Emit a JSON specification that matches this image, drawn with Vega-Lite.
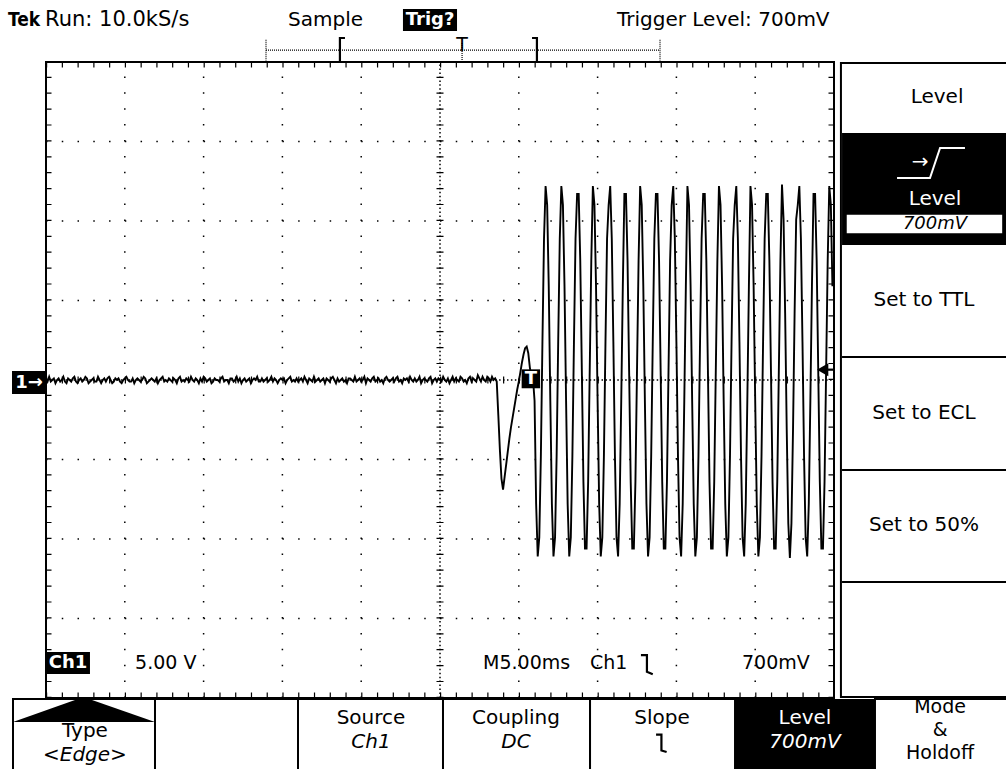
{
"$schema": "https://vega.github.io/schema/vega-lite/v6.json",
"width": 788, "height": 636,
"autosize": "none",
"padding": {"left": 46, "top": 62, "right": 172, "bottom": 71},
"background": "white",
"config": {"view": {"stroke": "black", "strokeWidth": 2}},
"datasets": {
"wave": [
{"t":0,"v":0.1},{"t":0.1,"v":-0.1},{"t":0.2,"v":0.2},{"t":0.3,"v":-0.1},{"t":0.4,"v":0},{"t":0.5,"v":0.1},{"t":0.6,"v":-0.2},{"t":0.7,"v":0},{"t":0.8,"v":0.1},{"t":0.9,"v":-0.1},
{"t":1,"v":0},{"t":1.1,"v":0.2},{"t":1.2,"v":-0.1},{"t":1.3,"v":-0.2},{"t":1.4,"v":0.1},{"t":1.5,"v":0},{"t":1.6,"v":-0.1},{"t":1.7,"v":0.1},{"t":1.8,"v":0.2},{"t":1.9,"v":-0.1},
{"t":2,"v":-0.2},{"t":2.1,"v":0},{"t":2.2,"v":0.1},{"t":2.3,"v":-0.1},{"t":2.4,"v":0},{"t":2.5,"v":0.2},{"t":2.6,"v":0.1},{"t":2.7,"v":-0.2},{"t":2.8,"v":-0.1},{"t":2.9,"v":0},
{"t":3,"v":0.1},{"t":3.1,"v":-0.1},{"t":3.2,"v":-0.1},{"t":3.3,"v":0.2},{"t":3.4,"v":0},{"t":3.5,"v":-0.2},{"t":3.6,"v":0},{"t":3.7,"v":0.1},{"t":3.8,"v":-0.1},{"t":3.9,"v":0.1},
{"t":4,"v":0.2},{"t":4.1,"v":0},{"t":4.2,"v":-0.2},{"t":4.3,"v":-0.1},{"t":4.4,"v":0.1},{"t":4.5,"v":0},{"t":4.6,"v":0.1},{"t":4.7,"v":-0.1},{"t":4.8,"v":-0.2},{"t":4.9,"v":0},
{"t":5,"v":0.1},{"t":5.1,"v":0.2},{"t":5.2,"v":0},{"t":5.3,"v":-0.1},{"t":5.4,"v":-0.1},{"t":5.5,"v":0.1},{"t":5.6,"v":-0.2},{"t":5.7,"v":0},{"t":5.8,"v":0.1},{"t":5.9,"v":0},
{"t":6,"v":-0.1},{"t":6.1,"v":0},{"t":6.2,"v":0.2},{"t":6.3,"v":0.1},{"t":6.4,"v":-0.2},{"t":6.5,"v":-0.1},{"t":6.6,"v":0},{"t":6.7,"v":0.1},{"t":6.8,"v":0},{"t":6.9,"v":-0.1},
{"t":7,"v":0.1},{"t":7.1,"v":-0.2},{"t":7.2,"v":0},{"t":7.3,"v":0.1},{"t":7.4,"v":0.2},{"t":7.5,"v":-0.1},{"t":7.6,"v":0},{"t":7.7,"v":-0.1},{"t":7.8,"v":0.1},{"t":7.9,"v":0},
{"t":8,"v":-0.1},{"t":8.1,"v":0.1},{"t":8.2,"v":0},{"t":8.3,"v":-0.2},{"t":8.4,"v":0.1},{"t":8.5,"v":0.2},{"t":8.6,"v":-0.1},{"t":8.7,"v":0},{"t":8.8,"v":-0.1},{"t":8.9,"v":0.1},
{"t":9,"v":0},{"t":9.1,"v":-0.1},{"t":9.2,"v":0.2},{"t":9.3,"v":0},{"t":9.4,"v":-0.1},{"t":9.5,"v":0.1},{"t":9.6,"v":0},{"t":9.7,"v":-0.2},{"t":9.8,"v":0.1},{"t":9.9,"v":-0.1},
{"t":10,"v":0.2},{"t":10.1,"v":0.1},{"t":10.2,"v":-0.1},{"t":10.3,"v":0},{"t":10.4,"v":0.1},{"t":10.5,"v":-0.2},{"t":10.6,"v":-0.1},{"t":10.7,"v":0.1},{"t":10.8,"v":0},{"t":10.9,"v":0},
{"t":11,"v":-0.1},{"t":11.1,"v":0.1},{"t":11.2,"v":0.2},{"t":11.3,"v":-0.1},{"t":11.4,"v":0},{"t":11.5,"v":0},{"t":11.6,"v":-0.2},{"t":11.7,"v":0.1},{"t":11.8,"v":0.1},{"t":11.9,"v":-0.1},
{"t":12,"v":0},{"t":12.1,"v":0.2},{"t":12.2,"v":-0.1},{"t":12.3,"v":0.1},{"t":12.4,"v":-0.2},{"t":12.5,"v":0},{"t":12.6,"v":0.1},{"t":12.7,"v":-0.1},{"t":12.8,"v":0},{"t":12.9,"v":0.1},
{"t":13,"v":-0.2},{"t":13.1,"v":0},{"t":13.2,"v":0.1},{"t":13.3,"v":0},{"t":13.4,"v":0.2},{"t":13.5,"v":-0.1},{"t":13.6,"v":-0.1},{"t":13.7,"v":0.1},{"t":13.8,"v":-0.1},{"t":13.9,"v":0},
{"t":14,"v":0.1},{"t":14.1,"v":-0.1},{"t":14.2,"v":0},{"t":14.3,"v":0.2},{"t":14.4,"v":-0.1},{"t":14.5,"v":0.1},{"t":14.6,"v":0},{"t":14.7,"v":-0.2},{"t":14.8,"v":0},{"t":14.9,"v":0.1},
{"t":15,"v":0},{"t":15.1,"v":0.1},{"t":15.2,"v":-0.2},{"t":15.3,"v":0},{"t":15.4,"v":0.1},{"t":15.5,"v":0.2},{"t":15.6,"v":-0.1},{"t":15.7,"v":0},{"t":15.8,"v":-0.1},{"t":15.9,"v":0.1},
{"t":16,"v":-0.1},{"t":16.1,"v":0},{"t":16.2,"v":0.1},{"t":16.3,"v":-0.1},{"t":16.4,"v":0.2},{"t":16.5,"v":0},{"t":16.6,"v":-0.2},{"t":16.7,"v":0.1},{"t":16.8,"v":0},{"t":16.9,"v":-0.1},
{"t":17,"v":0.2},{"t":17.1,"v":-0.1},{"t":17.2,"v":0},{"t":17.3,"v":0.1},{"t":17.4,"v":-0.1},{"t":17.5,"v":0},{"t":17.6,"v":0.1},{"t":17.7,"v":-0.2},{"t":17.8,"v":0.1},{"t":17.9,"v":0},
{"t":18,"v":-0.1},{"t":18.1,"v":0.1},{"t":18.2,"v":0.2},{"t":18.3,"v":0},{"t":18.4,"v":-0.2},{"t":18.5,"v":0.1},{"t":18.6,"v":-0.1},{"t":18.7,"v":0},{"t":18.8,"v":0.1},{"t":18.9,"v":-0.1},
{"t":19,"v":0},{"t":19.1,"v":-0.2},{"t":19.2,"v":0.1},{"t":19.3,"v":0.1},{"t":19.4,"v":0},{"t":19.5,"v":-0.1},{"t":19.6,"v":0.2},{"t":19.7,"v":-0.1},{"t":19.8,"v":0},{"t":19.9,"v":0.1},
{"t":20,"v":-0.1},{"t":20.1,"v":0},{"t":20.2,"v":0.2},{"t":20.3,"v":-0.2},{"t":20.4,"v":0.1},{"t":20.5,"v":0},{"t":20.6,"v":-0.1},{"t":20.7,"v":0.1},{"t":20.8,"v":0.2},{"t":20.9,"v":-0.1},
{"t":21,"v":0},{"t":21.1,"v":0.1},{"t":21.2,"v":-0.1},{"t":21.3,"v":0},{"t":21.4,"v":-0.2},{"t":21.5,"v":0.1},{"t":21.6,"v":0.2},{"t":21.7,"v":0},{"t":21.8,"v":-0.1},{"t":21.9,"v":0},
{"t":22,"v":0.1},{"t":22.1,"v":-0.1},{"t":22.2,"v":0.1},{"t":22.3,"v":0.2},{"t":22.4,"v":-0.1},{"t":22.5,"v":0},{"t":22.6,"v":-0.2},{"t":22.7,"v":0.1},{"t":22.8,"v":0},{"t":22.9,"v":0.1},
{"t":23,"v":-0.1},{"t":23.1,"v":0.2},{"t":23.2,"v":0},{"t":23.3,"v":-0.1},{"t":23.4,"v":0.1},{"t":23.5,"v":-0.1},{"t":23.6,"v":0},{"t":23.7,"v":0.2},{"t":23.8,"v":-0.2},{"t":23.9,"v":0},
{"t":24,"v":0.1},{"t":24.1,"v":0},{"t":24.2,"v":-0.1},{"t":24.3,"v":0.1},{"t":24.4,"v":0.2},{"t":24.5,"v":-0.2},{"t":24.6,"v":0},{"t":24.7,"v":0.1},{"t":24.8,"v":-0.1},{"t":24.9,"v":0.1},
{"t":25,"v":0},{"t":25.1,"v":-0.1},{"t":25.2,"v":0.2},{"t":25.3,"v":0},{"t":25.4,"v":-0.1},{"t":25.5,"v":0.1},{"t":25.6,"v":-0.2},{"t":25.7,"v":0},{"t":25.8,"v":0.2},{"t":25.9,"v":-0.1},
{"t":26,"v":0.1},{"t":26.1,"v":0},{"t":26.2,"v":-0.1},{"t":26.3,"v":0.2},{"t":26.4,"v":0.1},{"t":26.5,"v":-0.1},{"t":26.6,"v":0},{"t":26.7,"v":-0.2},{"t":26.8,"v":0.1},{"t":26.9,"v":0.2},
{"t":27,"v":-0.1},{"t":27.1,"v":0.1},{"t":27.2,"v":0},{"t":27.3,"v":-0.1},{"t":27.4,"v":0.3},{"t":27.5,"v":0.1},{"t":27.6,"v":-0.1},{"t":27.7,"v":0.2},{"t":27.8,"v":0},{"t":27.9,"v":-0.1},
{"t":28,"v":0.2},{"t":28.1,"v":0.1},{"t":28.2,"v":-0.1},{"t":28.3,"v":0.2},{"t":28.4,"v":0},{"t":28.5,"v":0.1},{"t":28.6,"v":-0.1},
{"t":28.7,"v":-2.2},{"t":28.8,"v":-4.4},{"t":28.9,"v":-6.2},{"t":29,"v":-6.9},{"t":29.1,"v":-6.1},{"t":29.2,"v":-5.3},{"t":29.3,"v":-4.5},{"t":29.4,"v":-3.7},{"t":29.5,"v":-3},{"t":29.6,"v":-2.4},
{"t":29.7,"v":-1.8},{"t":29.8,"v":-1.2},{"t":29.9,"v":-0.6},{"t":30,"v":-0.1},{"t":30.1,"v":0.5},{"t":30.2,"v":1.1},{"t":30.3,"v":1.6},{"t":30.4,"v":2},{"t":30.5,"v":2.1},{"t":30.6,"v":1.7},
{"t":30.7,"v":0.8},{"t":30.8,"v":0.2},{"t":30.9,"v":0.1},{"t":31,"v":-1.3},{"t":31.1,"v":-7.8},{"t":31.2,"v":-11.1},{"t":31.3,"v":-9.9},{"t":31.4,"v":-4.8},{"t":31.5,"v":2.4},{"t":31.6,"v":8.9},
{"t":31.7,"v":12.2},{"t":31.8,"v":11},{"t":31.9,"v":5.9},{"t":32,"v":-1.3},{"t":32.1,"v":-7.8},{"t":32.2,"v":-11.1},{"t":32.3,"v":-9.9},{"t":32.4,"v":-4.8},{"t":32.5,"v":2.4},{"t":32.6,"v":8.9},
{"t":32.7,"v":12.2},{"t":32.8,"v":11},{"t":32.9,"v":5.9},{"t":33,"v":-1.3},{"t":33.1,"v":-7.8},{"t":33.2,"v":-11.1},{"t":33.3,"v":-9.9},{"t":33.4,"v":-4.8},{"t":33.5,"v":2.4},{"t":33.6,"v":8.9},
{"t":33.7,"v":11.7},{"t":33.8,"v":11.7},{"t":33.9,"v":7.5},{"t":34,"v":0.6},{"t":34.1,"v":-6.4},{"t":34.2,"v":-10.6},{"t":34.3,"v":-10.6},{"t":34.4,"v":-6.4},{"t":34.5,"v":0.6},{"t":34.6,"v":7.5},
{"t":34.7,"v":12.2},{"t":34.8,"v":11},{"t":34.9,"v":5.9},{"t":35,"v":-1.3},{"t":35.1,"v":-7.8},{"t":35.2,"v":-11.1},{"t":35.3,"v":-9.9},{"t":35.4,"v":-4.8},{"t":35.5,"v":2.4},{"t":35.6,"v":8.9},
{"t":35.7,"v":11},{"t":35.8,"v":12.2},{"t":35.9,"v":8.9},{"t":36,"v":2.4},{"t":36.1,"v":-4.8},{"t":36.2,"v":-9.9},{"t":36.3,"v":-11.1},{"t":36.4,"v":-7.8},{"t":36.5,"v":-1.3},{"t":36.6,"v":5.9},
{"t":36.7,"v":11.7},{"t":36.8,"v":11.7},{"t":36.9,"v":7.5},{"t":37,"v":0.6},{"t":37.1,"v":-6.4},{"t":37.2,"v":-10.6},{"t":37.3,"v":-10.6},{"t":37.4,"v":-6.4},{"t":37.5,"v":0.6},{"t":37.6,"v":7.5},
{"t":37.7,"v":12.2},{"t":37.8,"v":11},{"t":37.9,"v":5.9},{"t":38,"v":-1.3},{"t":38.1,"v":-7.8},{"t":38.2,"v":-11.1},{"t":38.3,"v":-9.9},{"t":38.4,"v":-4.8},{"t":38.5,"v":2.4},{"t":38.6,"v":8.9},
{"t":38.7,"v":11.7},{"t":38.8,"v":11.7},{"t":38.9,"v":7.5},{"t":39,"v":0.6},{"t":39.1,"v":-6.4},{"t":39.2,"v":-10.6},{"t":39.3,"v":-10.6},{"t":39.4,"v":-6.4},{"t":39.5,"v":0.6},{"t":39.6,"v":7.5},
{"t":39.7,"v":11},{"t":39.8,"v":12.2},{"t":39.9,"v":8.9},{"t":40,"v":2.4},{"t":40.1,"v":-4.8},{"t":40.2,"v":-9.9},{"t":40.3,"v":-11.1},{"t":40.4,"v":-7.8},{"t":40.5,"v":-1.3},{"t":40.6,"v":5.9},
{"t":40.7,"v":12.2},{"t":40.8,"v":11},{"t":40.9,"v":5.9},{"t":41,"v":-1.3},{"t":41.1,"v":-7.8},{"t":41.2,"v":-11.1},{"t":41.3,"v":-9.9},{"t":41.4,"v":-4.8},{"t":41.5,"v":2.4},{"t":41.6,"v":8.9},
{"t":41.7,"v":11.7},{"t":41.8,"v":11.7},{"t":41.9,"v":7.5},{"t":42,"v":0.6},{"t":42.1,"v":-6.4},{"t":42.2,"v":-10.6},{"t":42.3,"v":-10.6},{"t":42.4,"v":-6.4},{"t":42.5,"v":0.6},{"t":42.6,"v":7.5},
{"t":42.7,"v":12.2},{"t":42.8,"v":11},{"t":42.9,"v":5.9},{"t":43,"v":-1.3},{"t":43.1,"v":-7.8},{"t":43.2,"v":-11.1},{"t":43.3,"v":-9.9},{"t":43.4,"v":-4.8},{"t":43.5,"v":2.4},{"t":43.6,"v":8.9},
{"t":43.7,"v":11},{"t":43.8,"v":12.2},{"t":43.9,"v":8.9},{"t":44,"v":2.4},{"t":44.1,"v":-4.8},{"t":44.2,"v":-9.9},{"t":44.3,"v":-11.1},{"t":44.4,"v":-7.8},{"t":44.5,"v":-1.3},{"t":44.6,"v":5.9},
{"t":44.7,"v":12.2},{"t":44.8,"v":11},{"t":44.9,"v":5.9},{"t":45,"v":-1.3},{"t":45.1,"v":-7.8},{"t":45.2,"v":-11.1},{"t":45.3,"v":-9.9},{"t":45.4,"v":-4.8},{"t":45.5,"v":2.4},{"t":45.6,"v":8.9},
{"t":45.7,"v":11.7},{"t":45.8,"v":11.7},{"t":45.9,"v":7.5},{"t":46,"v":0.6},{"t":46.1,"v":-6.4},{"t":46.2,"v":-10.6},{"t":46.3,"v":-10.6},{"t":46.4,"v":-6.4},{"t":46.5,"v":0.6},{"t":46.6,"v":7.5},
{"t":46.7,"v":12.3},{"t":46.8,"v":10.1},{"t":46.9,"v":4.2},{"t":47,"v":-3.1},{"t":47.1,"v":-9},{"t":47.2,"v":-11.2},{"t":47.3,"v":-9},{"t":47.4,"v":-3.1},{"t":47.5,"v":4.2},{"t":47.6,"v":10.1},
{"t":47.7,"v":11},{"t":47.8,"v":12.2},{"t":47.9,"v":8.9},{"t":48,"v":2.4},{"t":48.1,"v":-4.8},{"t":48.2,"v":-9.9},{"t":48.3,"v":-11.1},{"t":48.4,"v":-7.8},{"t":48.5,"v":-1.3},{"t":48.6,"v":5.9},
{"t":48.7,"v":11.7},{"t":48.8,"v":11.7},{"t":48.9,"v":7.5},{"t":49,"v":0.6},{"t":49.1,"v":-6.4},{"t":49.2,"v":-10.6},{"t":49.3,"v":-10.6},{"t":49.4,"v":-6.4},{"t":49.5,"v":0.6},{"t":49.6,"v":7.5},
{"t":49.7,"v":12.2},{"t":49.8,"v":11},{"t":49.9,"v":5.9}
],
"boxes": [
{"g":"w1","x1":50.44,"x2":61.2,"y1":19.94,"y2":-19.94},
{"g":"w1","x1":-2.094,"x2":6.916,"y1":-20.06,"y2":-24.9},
{"g":"w1","x1":6.916,"x2":15.99,"y1":-20.06,"y2":-24.9},
{"g":"w1","x1":15.99,"x2":25.19,"y1":-20.06,"y2":-24.9},
{"g":"w1","x1":25.19,"x2":34.52,"y1":-20.06,"y2":-24.9},
{"g":"w1","x1":34.52,"x2":43.72,"y1":-20.06,"y2":-24.9},
{"g":"w1","x1":52.6,"x2":61.2,"y1":-20.06,"y2":-24.9},
{"g":"k","x1":43.72,"x2":52.6,"y1":-20.06,"y2":-24.9},
{"g":"k","x1":50.51,"x2":61.2,"y1":15.53,"y2":8.49},
{"g":"k","x1":22.65,"x2":26.08,"y1":23.33,"y2":21.95},
{"g":"k","x1":0.063,"x2":2.79,"y1":-17.11,"y2":-18.49},
{"g":"k","x1":-2.157,"x2":0,"y1":0.566,"y2":-0.88},
{"g":"k","x1":30.18,"x2":31.35,"y1":0.67,"y2":-0.52},
{"g":"w2","x1":50.76,"x2":60.72,"y1":10.44,"y2":9.18}
],
"tri": [
{"t":-2.094,"v":-21.51},{"t":1.84,"v":-20.13},{"t":2.92,"v":-20.13},{"t":6.916,"v":-21.51}
],
"rules": [
{"g":"solid","x1":50.51,"x2":61,"y1":1.447,"y2":1.447},
{"g":"solid","x1":50.51,"x2":61,"y1":-5.66,"y2":-5.66},
{"g":"solid","x1":50.51,"x2":61,"y1":-12.7,"y2":-12.7},
{"g":"dot","x1":13.96,"x2":38.96,"y1":20.75,"y2":20.75},
{"g":"dot","x1":13.96,"x2":13.96,"y1":21.4,"y2":20.1},
{"g":"dot","x1":38.96,"x2":38.96,"y1":21.4,"y2":20.1},
{"g":"dot","x1":26.4,"x2":26.4,"y1":21.2,"y2":20.1}
],
"strokes": [
{"id":"icon","k":"w","o":1,"t":54.0,"v":12.7},{"id":"icon","k":"w","o":2,"t":56.09,"v":12.7},{"id":"icon","k":"w","o":3,"t":56.73,"v":14.59},{"id":"icon","k":"w","o":4,"t":58.31,"v":14.59},
{"id":"lb","k":"b","o":1,"t":18.97,"v":21.51},{"id":"lb","k":"b","o":2,"t":18.65,"v":21.51},{"id":"lb","k":"b","o":3,"t":18.65,"v":20.0},{"id":"lb","k":"b","o":4,"t":18.97,"v":20.0},
{"id":"rb","k":"b","o":1,"t":30.84,"v":21.51},{"id":"rb","k":"b","o":2,"t":31.15,"v":21.51},{"id":"rb","k":"b","o":3,"t":31.15,"v":20.0},{"id":"rb","k":"b","o":4,"t":30.84,"v":20.0},
{"id":"s1","k":"b","o":1,"t":37.75,"v":-17.3},{"id":"s1","k":"b","o":2,"t":38.13,"v":-17.3},{"id":"s1","k":"b","o":3,"t":38.13,"v":-18.35},{"id":"s1","k":"b","o":4,"t":38.5,"v":-18.5},
{"id":"s2","k":"b","o":1,"t":38.71,"v":-22.3},{"id":"s2","k":"b","o":2,"t":39.05,"v":-22.3},{"id":"s2","k":"b","o":3,"t":39.05,"v":-23.3},{"id":"s2","k":"b","o":4,"t":39.38,"v":-23.4},
{"id":"trg","k":"b","o":1,"t":49.4,"v":0.65},{"id":"trg","k":"b","o":2,"t":50,"v":0.65}
],
"labels": [
{"g":"hdrb","t":-2.41,"v":22.64,"text":"Tek"},
{"g":"hdr2","t":-0.06,"v":22.64,"text":"Run: 10.0kS/s"},
{"g":"hdr","t":15.36,"v":22.64,"text":"Sample"},
{"g":"hdr","t":36.23,"v":22.64,"text":"Trigger Level: 700mV"},
{"g":"inv","t":24.37,"v":22.64,"text":"Trig?"},
{"g":"inv","t":1.4,"v":-17.8,"text":"Ch1"},
{"g":"inv","t":-1.08,"v":-0.16,"text":"1→"},
{"g":"inv","t":30.77,"v":0.06,"text":"T"},
{"g":"scr","t":5.65,"v":-17.8,"text":"5.00 V"},
{"g":"scr","t":27.73,"v":-17.8,"text":"M5.00ms"},
{"g":"scr","t":34.52,"v":-17.8,"text":"Ch1"},
{"g":"scr","t":44.16,"v":-17.8,"text":"700mV"},
{"g":"pos","t":26.4,"v":21.05,"text":"T"},
{"g":"menu","t":56.54,"v":17.8,"text":"Level"},
{"g":"menu","t":55.71,"v":5.03,"text":"Set to TTL"},
{"g":"menu","t":55.71,"v":-2.08,"text":"Set to ECL"},
{"g":"menu","t":55.71,"v":-9.12,"text":"Set to 50%"},
{"g":"menuinv","t":56.41,"v":11.38,"text":"Level"},
{"g":"menuinv","t":55.46,"v":13.71,"text":"→"},
{"g":"menuital","t":56.41,"v":9.78,"text":"700mV"},
{"g":"btn","t":2.47,"v":-22.08,"text":"Type"},
{"g":"btn","t":20.62,"v":-21.26,"text":"Source"},
{"g":"btn","t":29.82,"v":-21.26,"text":"Coupling"},
{"g":"btn","t":39.09,"v":-21.26,"text":"Slope"},
{"g":"btn3","t":56.73,"v":-20.57,"text":"Mode"},
{"g":"btn3","t":56.73,"v":-22.01,"text":"&"},
{"g":"btn3","t":56.73,"v":-23.46,"text":"Holdoff"},
{"g":"btnital","t":2.47,"v":-23.6,"text":"<Edge>"},
{"g":"btnital","t":20.62,"v":-22.77,"text":"Ch1"},
{"g":"btnital","t":29.82,"v":-22.77,"text":"DC"},
{"g":"btninv","t":48.16,"v":-21.26,"text":"Level"},
{"g":"btninvital","t":48.16,"v":-22.77,"text":"700mV"}
],
"gh": [{"v":-15},{"v":-10},{"v":-5},{"v":5},{"v":10},{"v":15}],
"gv": [{"t":5},{"t":10},{"t":15},{"t":20},{"t":30},{"t":35},{"t":40},{"t":45}],
"c0": [{"v":0}],
"c25": [{"t":25}],
"tpt": [{"t":49.28,"v":0.65}]
},
"layer": [
{"data":{"name":"gh"},"mark":{"type":"rule","color":"black","strokeWidth":1.5,"strokeDash":[1.5,14.26]},
 "encoding":{"y":{"field":"v","type":"quantitative","scale":{"domain":[-20,20],"nice":false,"zero":false},"axis":null},
  "x":{"datum":0,"type":"quantitative","scale":{"domain":[0,50],"nice":false,"zero":false},"axis":null},"x2":{"datum":50}}},
{"data":{"name":"gv"},"mark":{"type":"rule","color":"black","strokeWidth":1.5,"strokeDash":[1.5,14.4]},
 "encoding":{"x":{"field":"t","type":"quantitative","scale":{"domain":[0,50],"nice":false,"zero":false},"axis":null},
  "y":{"datum":-20,"type":"quantitative","scale":{"domain":[-20,20],"nice":false,"zero":false},"axis":null},"y2":{"datum":20}}},
{"data":{"name":"c0"},"mark":{"type":"rule","color":"black","strokeWidth":1.5,"strokeDash":[1.5,2.44]},
 "encoding":{"y":{"field":"v","type":"quantitative","scale":{"domain":[-20,20],"nice":false,"zero":false},"axis":null},
  "x":{"datum":0,"type":"quantitative","scale":{"domain":[0,50],"nice":false,"zero":false},"axis":null},"x2":{"datum":50}}},
{"data":{"name":"c0"},"mark":{"type":"rule","color":"black","strokeWidth":7,"strokeDash":[1.2,14.56]},
 "encoding":{"y":{"field":"v","type":"quantitative","scale":{"domain":[-20,20],"nice":false,"zero":false},"axis":null},
  "x":{"datum":0,"type":"quantitative","scale":{"domain":[0,50],"nice":false,"zero":false},"axis":null},"x2":{"datum":50}}},
{"data":{"name":"c25"},"mark":{"type":"rule","color":"black","strokeWidth":1.5,"strokeDash":[1.5,2.475]},
 "encoding":{"x":{"field":"t","type":"quantitative","scale":{"domain":[0,50],"nice":false,"zero":false},"axis":null},
  "y":{"datum":-20,"type":"quantitative","scale":{"domain":[-20,20],"nice":false,"zero":false},"axis":null},"y2":{"datum":20}}},
{"data":{"name":"c25"},"mark":{"type":"rule","color":"black","strokeWidth":7,"strokeDash":[1.2,14.7]},
 "encoding":{"x":{"field":"t","type":"quantitative","scale":{"domain":[0,50],"nice":false,"zero":false},"axis":null},
  "y":{"datum":-20,"type":"quantitative","scale":{"domain":[-20,20],"nice":false,"zero":false},"axis":null},"y2":{"datum":20}}},
{"data":{"values":[{"v":20}]},"mark":{"type":"rule","color":"black","strokeWidth":5,"strokeDash":[1.2,14.56],"yOffset":3},
 "encoding":{"y":{"field":"v","type":"quantitative","scale":{"domain":[-20,20],"nice":false,"zero":false},"axis":null},
  "x":{"datum":0,"type":"quantitative","scale":{"domain":[0,50],"nice":false,"zero":false},"axis":null},"x2":{"datum":50}}},
{"data":{"values":[{"v":-20}]},"mark":{"type":"rule","color":"black","strokeWidth":5,"strokeDash":[1.2,14.56],"yOffset":-3},
 "encoding":{"y":{"field":"v","type":"quantitative","scale":{"domain":[-20,20],"nice":false,"zero":false},"axis":null},
  "x":{"datum":0,"type":"quantitative","scale":{"domain":[0,50],"nice":false,"zero":false},"axis":null},"x2":{"datum":50}}},
{"data":{"values":[{"t":0}]},"mark":{"type":"rule","color":"black","strokeWidth":5,"strokeDash":[1.2,14.7],"xOffset":3},
 "encoding":{"x":{"field":"t","type":"quantitative","scale":{"domain":[0,50],"nice":false,"zero":false},"axis":null},
  "y":{"datum":-20,"type":"quantitative","scale":{"domain":[-20,20],"nice":false,"zero":false},"axis":null},"y2":{"datum":20}}},
{"data":{"values":[{"t":50}]},"mark":{"type":"rule","color":"black","strokeWidth":5,"strokeDash":[1.2,14.7],"xOffset":-3},
 "encoding":{"x":{"field":"t","type":"quantitative","scale":{"domain":[0,50],"nice":false,"zero":false},"axis":null},
  "y":{"datum":-20,"type":"quantitative","scale":{"domain":[-20,20],"nice":false,"zero":false},"axis":null},"y2":{"datum":20}}},
{"data":{"name":"wave"},"mark":{"type":"line","color":"black","strokeWidth":1.9,"interpolate":"linear"},
 "encoding":{"x":{"field":"t","type":"quantitative","scale":{"domain":[0,50],"nice":false,"zero":false},"axis":null},
  "y":{"field":"v","type":"quantitative","scale":{"domain":[-20,20],"nice":false,"zero":false},"axis":null}}},
{"data":{"name":"boxes"},"transform":[{"filter":"datum.g==='w1'"}],"mark":{"type":"rect","fill":"white","stroke":"black","strokeWidth":2},
 "encoding":{"x":{"field":"x1","type":"quantitative","scale":{"domain":[0,50],"nice":false,"zero":false},"axis":null},"x2":{"field":"x2"},
  "y":{"field":"y1","type":"quantitative","scale":{"domain":[-20,20],"nice":false,"zero":false},"axis":null},"y2":{"field":"y2"}}},
{"data":{"name":"boxes"},"transform":[{"filter":"datum.g==='k'"}],"mark":{"type":"rect","fill":"black"},
 "encoding":{"x":{"field":"x1","type":"quantitative","scale":{"domain":[0,50],"nice":false,"zero":false},"axis":null},"x2":{"field":"x2"},
  "y":{"field":"y1","type":"quantitative","scale":{"domain":[-20,20],"nice":false,"zero":false},"axis":null},"y2":{"field":"y2"}}},
{"data":{"name":"boxes"},"transform":[{"filter":"datum.g==='w2'"}],"mark":{"type":"rect","fill":"white","stroke":"black","strokeWidth":1.5},
 "encoding":{"x":{"field":"x1","type":"quantitative","scale":{"domain":[0,50],"nice":false,"zero":false},"axis":null},"x2":{"field":"x2"},
  "y":{"field":"y1","type":"quantitative","scale":{"domain":[-20,20],"nice":false,"zero":false},"axis":null},"y2":{"field":"y2"}}},
{"data":{"name":"tri"},"mark":{"type":"area","color":"black","interpolate":"linear"},
 "encoding":{"x":{"field":"t","type":"quantitative","scale":{"domain":[0,50],"nice":false,"zero":false},"axis":null},
  "y":{"field":"v","type":"quantitative","scale":{"domain":[-20,20],"nice":false,"zero":false},"axis":null},"y2":{"datum":-21.51}}},
{"data":{"name":"rules"},"transform":[{"filter":"datum.g==='solid'"}],"mark":{"type":"rule","color":"black","strokeWidth":2},
 "encoding":{"x":{"field":"x1","type":"quantitative","scale":{"domain":[0,50],"nice":false,"zero":false},"axis":null},"x2":{"field":"x2"},
  "y":{"field":"y1","type":"quantitative","scale":{"domain":[-20,20],"nice":false,"zero":false},"axis":null},"y2":{"field":"y2"}}},
{"data":{"name":"rules"},"transform":[{"filter":"datum.g==='dot'"}],"mark":{"type":"rule","color":"black","strokeWidth":1.2,"strokeDash":[1,1]},
 "encoding":{"x":{"field":"x1","type":"quantitative","scale":{"domain":[0,50],"nice":false,"zero":false},"axis":null},"x2":{"field":"x2"},
  "y":{"field":"y1","type":"quantitative","scale":{"domain":[-20,20],"nice":false,"zero":false},"axis":null},"y2":{"field":"y2"}}},
{"data":{"name":"strokes"},"transform":[{"filter":"datum.k==='b'"}],"mark":{"type":"line","color":"black","strokeWidth":2.2},
 "encoding":{"x":{"field":"t","type":"quantitative","scale":{"domain":[0,50],"nice":false,"zero":false},"axis":null},
  "y":{"field":"v","type":"quantitative","scale":{"domain":[-20,20],"nice":false,"zero":false},"axis":null},
  "detail":{"field":"id"},"order":{"field":"o"}}},
{"data":{"name":"strokes"},"transform":[{"filter":"datum.k==='w'"}],"mark":{"type":"line","color":"white","strokeWidth":2},
 "encoding":{"x":{"field":"t","type":"quantitative","scale":{"domain":[0,50],"nice":false,"zero":false},"axis":null},
  "y":{"field":"v","type":"quantitative","scale":{"domain":[-20,20],"nice":false,"zero":false},"axis":null},
  "detail":{"field":"id"},"order":{"field":"o"}}},
{"data":{"name":"tpt"},"mark":{"type":"point","shape":"triangle-left","filled":true,"color":"black","size":170,"opacity":1},
 "encoding":{"x":{"field":"t","type":"quantitative","scale":{"domain":[0,50],"nice":false,"zero":false},"axis":null},
  "y":{"field":"v","type":"quantitative","scale":{"domain":[-20,20],"nice":false,"zero":false},"axis":null}}},
{"data":{"name":"labels"},"transform":[{"filter":"datum.g==='hdrb'"}],"mark":{"type":"text","font":"DejaVu Sans Condensed","fontWeight":"bold","fontSize":19,"align":"left","baseline":"middle","color":"black"},
 "encoding":{"x":{"field":"t","type":"quantitative","scale":{"domain":[0,50],"nice":false,"zero":false},"axis":null},"y":{"field":"v","type":"quantitative","scale":{"domain":[-20,20],"nice":false,"zero":false},"axis":null},"text":{"field":"text"}}},
{"data":{"name":"labels"},"transform":[{"filter":"datum.g==='hdr2'"}],"mark":{"type":"text","font":"DejaVu Sans","fontSize":21,"align":"left","baseline":"middle","color":"black"},
 "encoding":{"x":{"field":"t","type":"quantitative","scale":{"domain":[0,50],"nice":false,"zero":false},"axis":null},"y":{"field":"v","type":"quantitative","scale":{"domain":[-20,20],"nice":false,"zero":false},"axis":null},"text":{"field":"text"}}},
{"data":{"name":"labels"},"transform":[{"filter":"datum.g==='hdr'"}],"mark":{"type":"text","font":"DejaVu Sans","fontSize":20,"align":"left","baseline":"middle","color":"black"},
 "encoding":{"x":{"field":"t","type":"quantitative","scale":{"domain":[0,50],"nice":false,"zero":false},"axis":null},"y":{"field":"v","type":"quantitative","scale":{"domain":[-20,20],"nice":false,"zero":false},"axis":null},"text":{"field":"text"}}},
{"data":{"name":"labels"},"transform":[{"filter":"datum.g==='inv'"}],"mark":{"type":"text","font":"DejaVu Sans","fontWeight":"bold","fontSize":18,"align":"center","baseline":"middle","color":"white"},
 "encoding":{"x":{"field":"t","type":"quantitative","scale":{"domain":[0,50],"nice":false,"zero":false},"axis":null},"y":{"field":"v","type":"quantitative","scale":{"domain":[-20,20],"nice":false,"zero":false},"axis":null},"text":{"field":"text"}}},
{"data":{"name":"labels"},"transform":[{"filter":"datum.g==='scr'"}],"mark":{"type":"text","font":"DejaVu Sans","fontSize":19,"align":"left","baseline":"middle","color":"black"},
 "encoding":{"x":{"field":"t","type":"quantitative","scale":{"domain":[0,50],"nice":false,"zero":false},"axis":null},"y":{"field":"v","type":"quantitative","scale":{"domain":[-20,20],"nice":false,"zero":false},"axis":null},"text":{"field":"text"}}},
{"data":{"name":"labels"},"transform":[{"filter":"datum.g==='pos'"}],"mark":{"type":"text","font":"DejaVu Sans","fontSize":19,"align":"center","baseline":"middle","color":"black"},
 "encoding":{"x":{"field":"t","type":"quantitative","scale":{"domain":[0,50],"nice":false,"zero":false},"axis":null},"y":{"field":"v","type":"quantitative","scale":{"domain":[-20,20],"nice":false,"zero":false},"axis":null},"text":{"field":"text"}}},
{"data":{"name":"labels"},"transform":[{"filter":"datum.g==='menu'"}],"mark":{"type":"text","font":"DejaVu Sans","fontSize":20,"align":"center","baseline":"middle","color":"black"},
 "encoding":{"x":{"field":"t","type":"quantitative","scale":{"domain":[0,50],"nice":false,"zero":false},"axis":null},"y":{"field":"v","type":"quantitative","scale":{"domain":[-20,20],"nice":false,"zero":false},"axis":null},"text":{"field":"text"}}},
{"data":{"name":"labels"},"transform":[{"filter":"datum.g==='menuinv'"}],"mark":{"type":"text","font":"DejaVu Sans","fontSize":20,"align":"center","baseline":"middle","color":"white"},
 "encoding":{"x":{"field":"t","type":"quantitative","scale":{"domain":[0,50],"nice":false,"zero":false},"axis":null},"y":{"field":"v","type":"quantitative","scale":{"domain":[-20,20],"nice":false,"zero":false},"axis":null},"text":{"field":"text"}}},
{"data":{"name":"labels"},"transform":[{"filter":"datum.g==='menuital'"}],"mark":{"type":"text","font":"DejaVu Sans","fontStyle":"italic","fontSize":18,"align":"center","baseline":"middle","color":"black"},
 "encoding":{"x":{"field":"t","type":"quantitative","scale":{"domain":[0,50],"nice":false,"zero":false},"axis":null},"y":{"field":"v","type":"quantitative","scale":{"domain":[-20,20],"nice":false,"zero":false},"axis":null},"text":{"field":"text"}}},
{"data":{"name":"labels"},"transform":[{"filter":"datum.g==='btn'"}],"mark":{"type":"text","font":"DejaVu Sans","fontSize":20,"align":"center","baseline":"middle","color":"black"},
 "encoding":{"x":{"field":"t","type":"quantitative","scale":{"domain":[0,50],"nice":false,"zero":false},"axis":null},"y":{"field":"v","type":"quantitative","scale":{"domain":[-20,20],"nice":false,"zero":false},"axis":null},"text":{"field":"text"}}},
{"data":{"name":"labels"},"transform":[{"filter":"datum.g==='btn3'"}],"mark":{"type":"text","font":"DejaVu Sans","fontSize":19,"align":"center","baseline":"middle","color":"black"},
 "encoding":{"x":{"field":"t","type":"quantitative","scale":{"domain":[0,50],"nice":false,"zero":false},"axis":null},"y":{"field":"v","type":"quantitative","scale":{"domain":[-20,20],"nice":false,"zero":false},"axis":null},"text":{"field":"text"}}},
{"data":{"name":"labels"},"transform":[{"filter":"datum.g==='btnital'"}],"mark":{"type":"text","font":"DejaVu Sans","fontStyle":"italic","fontSize":20,"align":"center","baseline":"middle","color":"black"},
 "encoding":{"x":{"field":"t","type":"quantitative","scale":{"domain":[0,50],"nice":false,"zero":false},"axis":null},"y":{"field":"v","type":"quantitative","scale":{"domain":[-20,20],"nice":false,"zero":false},"axis":null},"text":{"field":"text"}}},
{"data":{"name":"labels"},"transform":[{"filter":"datum.g==='btninv'"}],"mark":{"type":"text","font":"DejaVu Sans","fontSize":20,"align":"center","baseline":"middle","color":"white"},
 "encoding":{"x":{"field":"t","type":"quantitative","scale":{"domain":[0,50],"nice":false,"zero":false},"axis":null},"y":{"field":"v","type":"quantitative","scale":{"domain":[-20,20],"nice":false,"zero":false},"axis":null},"text":{"field":"text"}}},
{"data":{"name":"labels"},"transform":[{"filter":"datum.g==='btninvital'"}],"mark":{"type":"text","font":"DejaVu Sans","fontStyle":"italic","fontSize":20,"align":"center","baseline":"middle","color":"white"},
 "encoding":{"x":{"field":"t","type":"quantitative","scale":{"domain":[0,50],"nice":false,"zero":false},"axis":null},"y":{"field":"v","type":"quantitative","scale":{"domain":[-20,20],"nice":false,"zero":false},"axis":null},"text":{"field":"text"}}}
]
}
